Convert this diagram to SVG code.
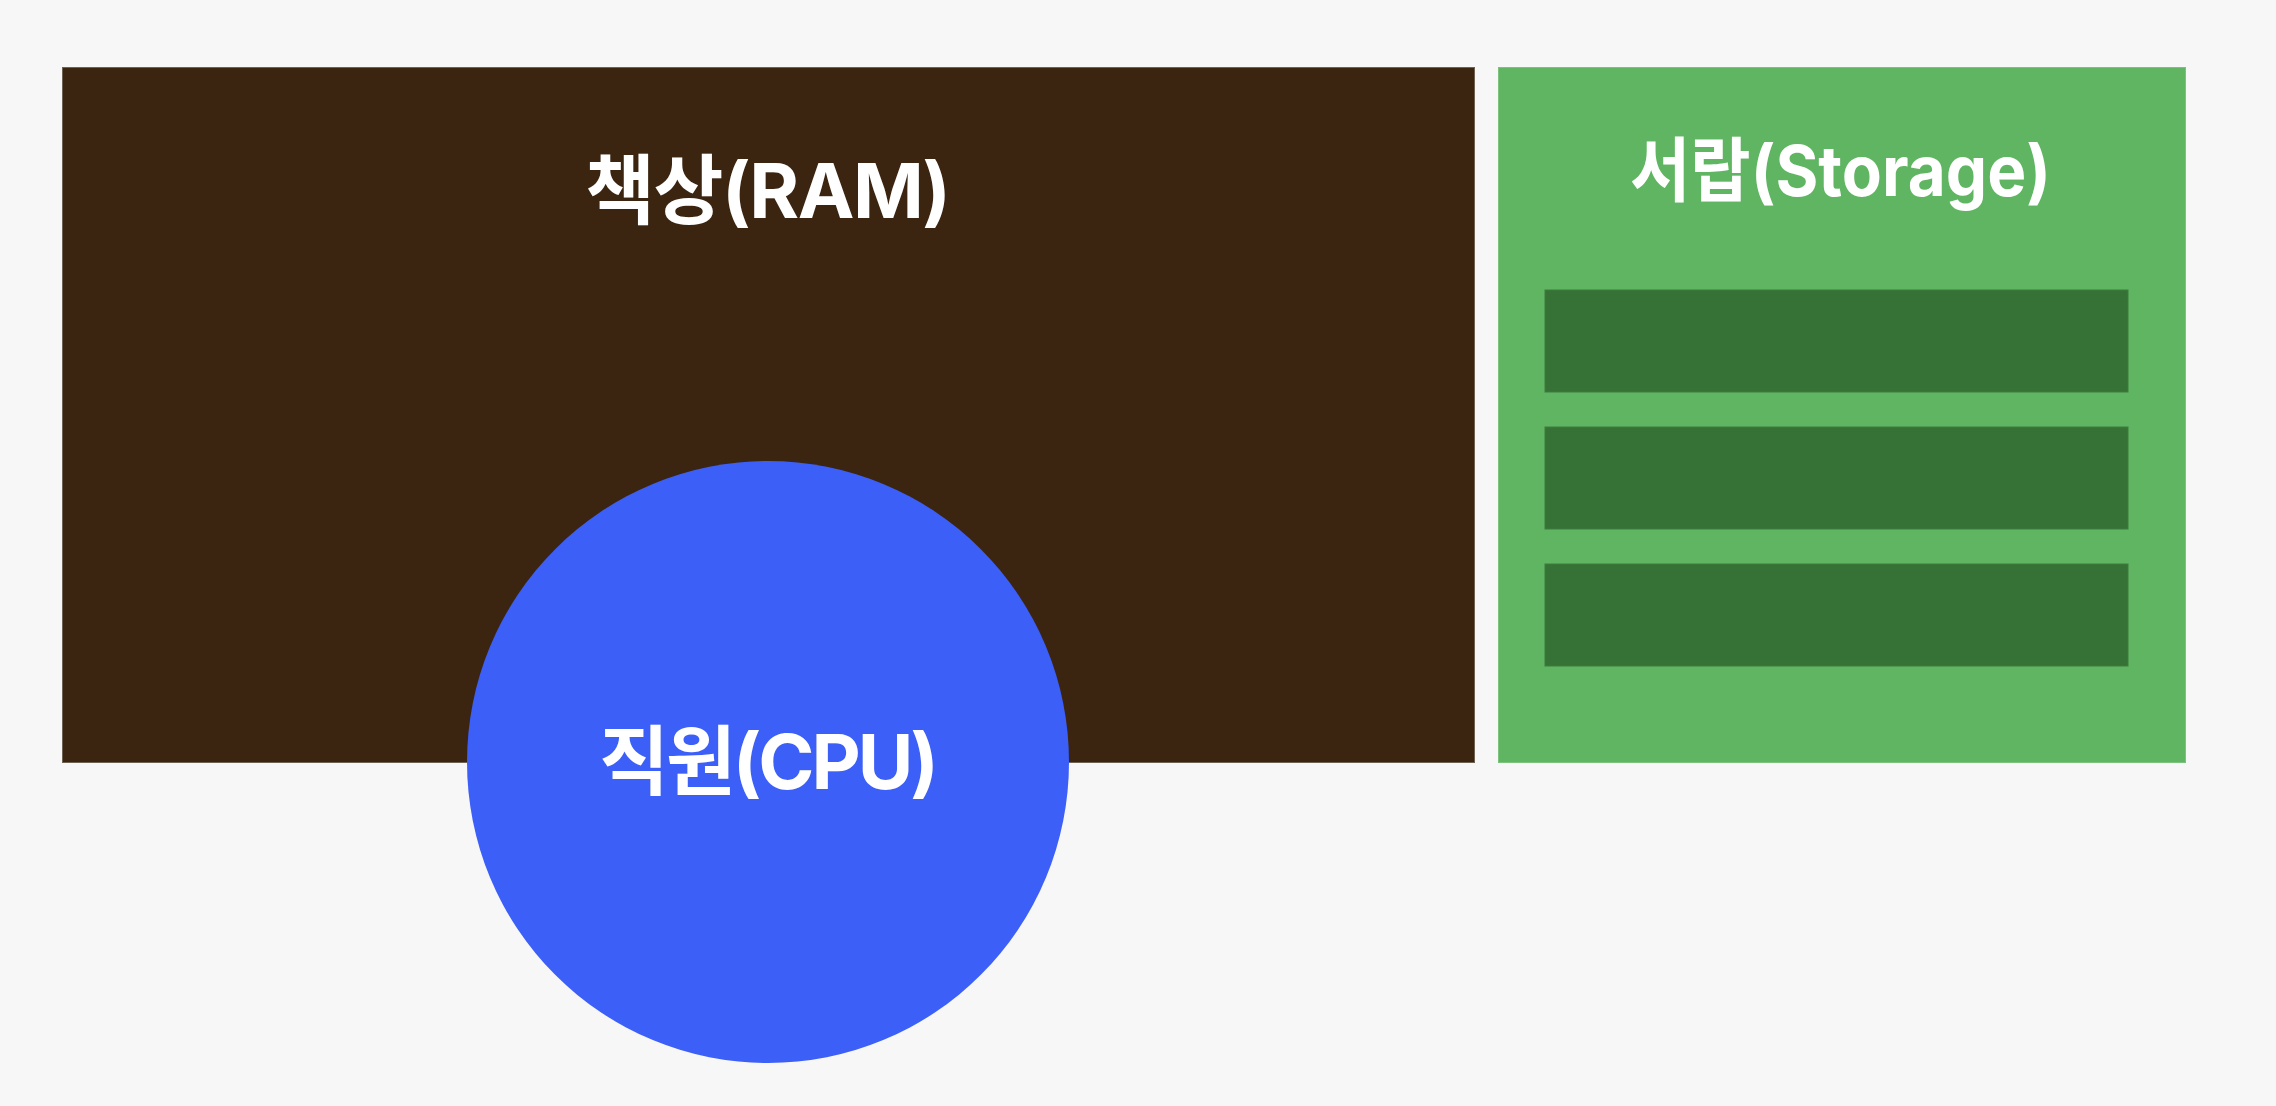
<svg xmlns="http://www.w3.org/2000/svg" width="2276" height="1106" viewBox="0 0 2276 1106">
<style>
.lbl{font-family:"Inter","Noto Sans CJK KR",sans-serif;font-weight:700;font-size:76px;fill:#ffffff}
.drawer{fill:#367136;stroke:#3f7d3f;stroke-width:1}
</style>
<rect width="2276" height="1106" fill="#f7f7f7"/>
<g id="ram">
<rect x="62.5" y="67.5" width="1412" height="695" fill="#3b2410" stroke="#6e6253" stroke-width="1"/>
<text class="lbl" x="585" y="218" textLength="366" lengthAdjust="spacing">책상(RAM)</text>
</g>
<g id="storage">
<rect x="1498.5" y="67.5" width="687" height="695" fill="#5fb561" stroke="#7cc47e" stroke-width="1"/>
<text class="lbl" x="1630" y="196" style="font-size:70px" textLength="421" lengthAdjust="spacingAndGlyphs">서랍(Storage)</text>
<rect class="drawer" x="1545" y="290" width="583" height="102"/>
<rect class="drawer" x="1545" y="427" width="583" height="102"/>
<rect class="drawer" x="1545" y="564" width="583" height="102"/>
</g>
<g id="cpu">
<circle cx="768" cy="762" r="301" fill="#3b5ff7"/>
<text class="lbl" x="599" y="789" textLength="340" lengthAdjust="spacing">직원(CPU)</text>
</g>
<g id="connectors"></g>
</svg>
